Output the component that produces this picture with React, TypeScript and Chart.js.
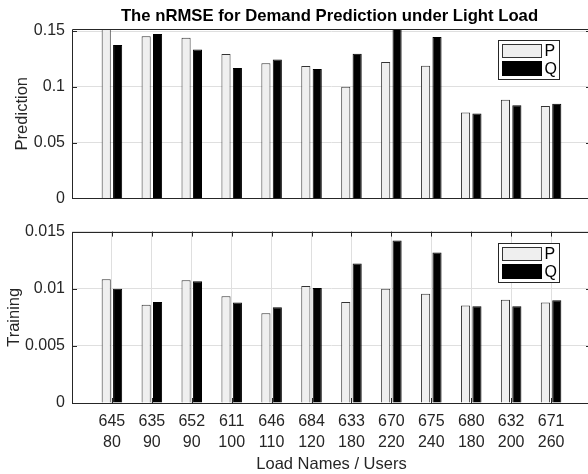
import React, { useEffect, useRef } from 'react';
import { Chart, registerables } from 'chart.js';

Chart.register(...registerables);

// ---------- data ----------
const loadNames = ['645', '635', '652', '611', '646', '684', '633', '670', '675', '680', '632', '671'];
const userCounts = ['80', '90', '90', '100', '110', '120', '180', '220', '240', '180', '200', '260'];

const predictionP = [0.1525, 0.1452, 0.144, 0.1293, 0.121, 0.1186, 0.1, 0.1222, 0.1189, 0.0769, 0.0885, 0.0828];
const predictionQ = [0.1375, 0.1473, 0.1334, 0.1169, 0.1245, 0.116, 0.1296, 0.1545, 0.1446, 0.076, 0.0834, 0.0849];

const trainingP = [0.01083, 0.0086, 0.01074, 0.00934, 0.00786, 0.01023, 0.00883, 0.01, 0.00957, 0.00854, 0.00903, 0.0088];
const trainingQ = [0.01, 0.00883, 0.01066, 0.0088, 0.00837, 0.01006, 0.0122, 0.01423, 0.01317, 0.00846, 0.00846, 0.009];

const predictionTicks = [0, 0.05, 0.1, 0.15];
const trainingTicks = [0, 0.005, 0.01, 0.015];
const predictionMax = 0.1518;
const trainingMax = 0.015;

const seriesNames = ['P', 'Q'];
const titleText = 'The nRMSE for Demand Prediction under Light Load';
const xTitle = 'Load Names / Users';

// ---------- styles ----------
const FONT = '"Liberation Sans", Arial, Helvetica, sans-serif';
const AXIS = '#262626';
const GRID = '#dfdfdf';
const P_FILL = '#efefef';
const P_EDGE = '#333333';
const Q_FILL = '#000000';

const frameMarks = {
  id: 'frameMarks',
  afterDatasetsDraw(chart: any, _args: any, opts: any) {
    const { ctx, chartArea } = chart;
    const { left, right, top, bottom } = chartArea;
    const L = 5;
    ctx.save();
    ctx.strokeStyle = AXIS;
    ctx.lineWidth = 1;
    const y = chart.scales.y;
    ctx.beginPath();
    y.ticks.forEach((t: any) => {
      const py = Math.round(y.getPixelForValue(t.value)) + 0.5;
      ctx.moveTo(left, py);
      ctx.lineTo(left + L, py);
      ctx.moveTo(right, py);
      ctx.lineTo(right - L, py);
    });
    if (opts.xTicks) {
      const x = chart.scales.x;
      x.ticks.forEach((t: any) => {
        const px = Math.round(x.getPixelForValue(t.value)) + 0.5;
        ctx.moveTo(px, bottom);
        ctx.lineTo(px, bottom - L);
        ctx.moveTo(px, top);
        ctx.lineTo(px, top + L);
      });
    }
    ctx.stroke();
    ctx.beginPath();
    ctx.rect(Math.round(left) + 0.5, Math.round(top) + 0.5, Math.round(right - left), Math.round(bottom - top));
    ctx.stroke();
    ctx.restore();
  },
};

const boxLegend = {
  id: 'boxLegend',
  afterDraw(chart: any) {
    const { ctx, chartArea } = chart;
    const bx = Math.round(chartArea.right - 93) + 0.5;
    const by = Math.round(chartArea.top + 11) + 0.5;
    const bw = 61;
    const bh = 39;
    ctx.save();
    ctx.fillStyle = '#ffffff';
    ctx.fillRect(bx, by, bw, bh);
    ctx.strokeStyle = AXIS;
    ctx.lineWidth = 1;
    ctx.strokeRect(bx, by, bw, bh);
    ctx.font = `16px ${FONT}`;
    ctx.textBaseline = 'middle';
    ctx.textAlign = 'left';
    chart.data.datasets.forEach((ds: any, i: number) => {
      const sx = bx + 4;
      const sy = by + (i === 0 ? 4 : 21);
      const sh = i === 0 ? 13 : 14;
      ctx.fillStyle = ds.backgroundColor;
      ctx.fillRect(sx, sy, 39, sh);
      ctx.strokeStyle = ds.borderColor;
      ctx.strokeRect(sx, sy, 39, sh);
      ctx.fillStyle = '#000';
      ctx.fillText(ds.label, sx + 42, sy + sh / 2 + 1);
    });
    ctx.restore();
  },
};

const topTitle = {
  id: 'topTitle',
  afterDraw(chart: any, _args: any, opts: any) {
    if (!opts.text) return;
    const { ctx, chartArea } = chart;
    ctx.save();
    ctx.font = `bold 16.7px ${FONT}`;
    ctx.fillStyle = '#000';
    ctx.textAlign = 'center';
    ctx.textBaseline = 'alphabetic';
    ctx.fillText(opts.text, (chartArea.left + chartArea.right) / 2 - 2, 20.5);
    ctx.restore();
  },
};

function makeConfig(p: {
  pVals: number[];
  qVals: number[];
  yTicks: number[];
  yMax: number;
  yLabel: string;
  yLabelPad: number;
  showX: boolean;
  xHeight: number;
  padTop: number;
  title?: string;
}): any {
  const toPts = (vals: number[]) => vals.map((v, i) => ({ x: i + 1, y: v }));
  return {
    type: 'bar',
    data: {
      datasets: [
        {
          label: seriesNames[0],
          data: toPts(p.pVals),
          backgroundColor: P_FILL,
          borderColor: P_EDGE,
          borderWidth: 1,
          categoryPercentage: 0.571,
          barPercentage: 0.8,
        },
        {
          label: seriesNames[1],
          data: toPts(p.qVals),
          backgroundColor: Q_FILL,
          borderColor: '#000000',
          borderWidth: 1,
          categoryPercentage: 0.571,
          barPercentage: 0.8,
        },
      ],
    },
    options: {
      responsive: false,
      animation: false,
      devicePixelRatio: 1,
      events: [],
      layout: { padding: { top: p.padTop, right: 5, left: 0, bottom: 0 } },
      plugins: {
        legend: { display: false },
        tooltip: { enabled: false },
        title: { display: false },
        frameMarks: { xTicks: p.showX },
        topTitle: { text: p.title || '' },
      },
      scales: {
        x: {
          type: 'linear',
          offset: false,
          min: 0,
          max: loadNames.length + 1,
          afterBuildTicks: (scale: any) => {
            scale.ticks = loadNames.map((_, i) => ({ value: i + 1 }));
          },
          afterFit: (scale: any) => {
            scale.height = p.xHeight;
          },
          grid: { display: p.showX, offset: false, color: GRID, drawTicks: false },
          border: { display: false },
          ticks: {
            display: p.showX,
            autoSkip: false,
            maxRotation: 0,
            padding: 8,
            color: '#262626',
            font: { family: FONT, size: 16, lineHeight: 1.32 },
            callback: (v: any) => {
              const i = Math.round(v) - 1;
              return [loadNames[i], userCounts[i]];
            },
          },
          title: {
            display: p.showX,
            text: xTitle,
            color: '#262626',
            font: { family: FONT, size: 16.5, lineHeight: 1.2 },
            padding: { top: 0, bottom: 0 },
          },
        },
        y: {
          type: 'linear',
          min: 0,
          max: p.yMax,
          afterBuildTicks: (scale: any) => {
            scale.ticks = p.yTicks.map((v) => ({ value: v }));
          },
          afterFit: (scale: any) => {
            scale.width = 72;
          },
          grid: { color: GRID, drawTicks: false },
          border: { display: false },
          ticks: {
            padding: 7,
            color: '#262626',
            font: { family: FONT, size: 16 },
            callback: (v: any) => String(v),
          },
          title: {
            display: true,
            text: p.yLabel,
            color: '#262626',
            font: { family: FONT, size: 16.5, lineHeight: 1.2 },
            padding: { top: p.yLabelPad, bottom: 0 },
          },
        },
      },
    },
    plugins: [frameMarks, boxLegend, topTitle],
  };
}

function BarPanel(props: { config: any; width: number; height: number; top: number }) {
  const ref = useRef<HTMLCanvasElement | null>(null);
  useEffect(() => {
    if (!ref.current) return;
    const chart = new Chart(ref.current, props.config);
    return () => chart.destroy();
  }, []);
  return (
    <canvas
      ref={ref}
      width={props.width}
      height={props.height}
      style={{ position: 'absolute', left: 0, top: props.top, width: props.width, height: props.height }}
    />
  );
}

export default function App() {
  const topCfg = makeConfig({
    pVals: predictionP,
    qVals: predictionQ,
    yTicks: predictionTicks,
    yMax: predictionMax,
    yLabel: 'Prediction',
    yLabelPad: 12.6,
    showX: false,
    xHeight: 15,
    padTop: 29,
    title: titleText,
  });
  const botCfg = makeConfig({
    pVals: trainingP,
    qVals: trainingQ,
    yTicks: trainingTicks,
    yMax: trainingMax,
    yLabel: 'Training',
    yLabelPad: 4.5,
    showX: true,
    xHeight: 71,
    padTop: 13,
  });
  return (
    <div
      style={{
        position: 'absolute',
        left: 0,
        top: 0,
        width: 588,
        height: 474,
        overflow: 'hidden',
        background: '#ffffff',
      }}
    >
      <BarPanel config={topCfg} width={596} height={215} top={0} />
      <BarPanel config={botCfg} width={596} height={259} top={215} />
    </div>
  );
}
